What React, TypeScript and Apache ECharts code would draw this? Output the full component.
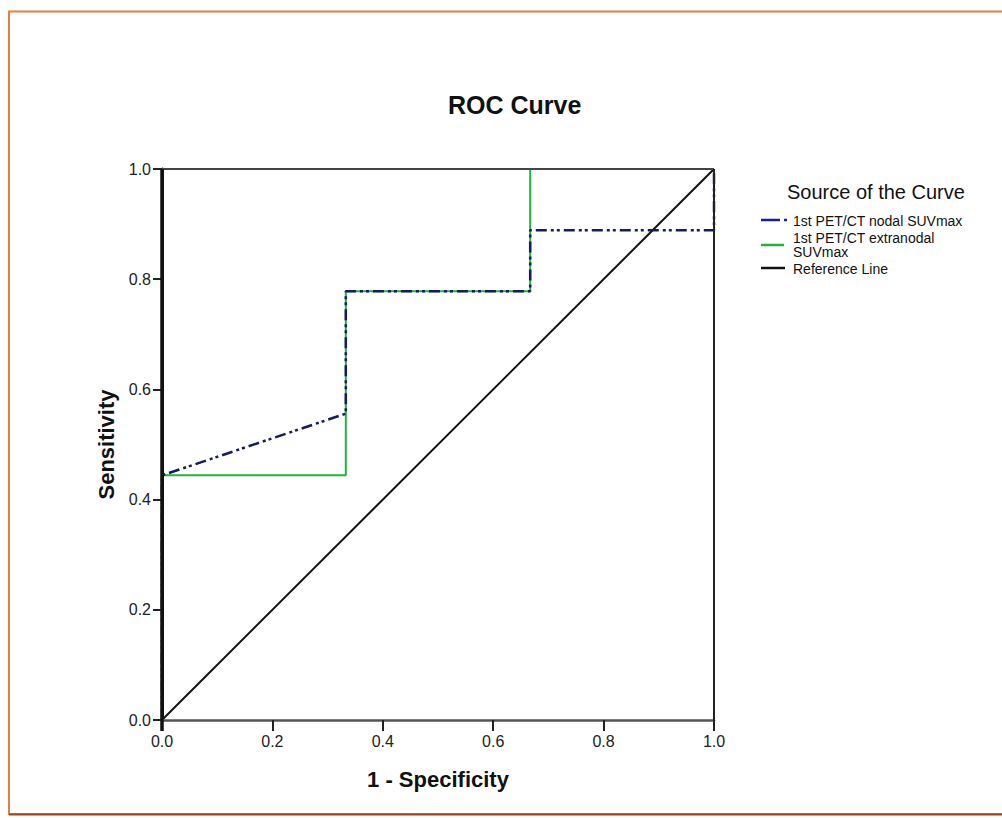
import React, { useEffect, useRef } from "react";
import * as echarts from "echarts";

const xTicks = [0, 0.2, 0.4, 0.6, 0.8, 1.0];
const nodalX = [0, 0, 0.333, 0.333, 0.667, 0.667, 1, 1];
const nodalY = [0, 0.444, 0.556, 0.778, 0.778, 0.889, 0.889, 1];
const extraX = [0, 0, 0.333, 0.333, 0.667, 0.667, 1];
const extraY = [0, 0.444, 0.444, 0.778, 0.778, 1, 1];
const refX = [0, 1];
const refY = [0, 1];
const seriesNames = ["1st PET/CT nodal SUVmax", "1st PET/CT extranodal SUVmax", "Reference Line"];

const zip = (xs: number[], ys: number[]) => xs.map((x, i) => [x, ys[i]]);

export default function App() {
  const ref = useRef<HTMLDivElement>(null);
  useEffect(() => {
    if (!ref.current) return;
    const chart = echarts.init(ref.current, undefined, { renderer: "svg" });
    const font = "'Liberation Sans', Arial, sans-serif";
    const L = 162, T = 169, W = 552, H = 551;
    chart.setOption({
      animation: false,
      backgroundColor: "#ffffff",
      title: {
        text: "ROC Curve",
        left: 443,
        top: 87,
        textStyle: { fontFamily: font, fontSize: 25, fontWeight: "bold", color: "#111" },
      },
      grid: { left: L, top: T, width: W, height: H, show: false },
      xAxis: {
        type: "value",
        min: 0,
        max: 1,
        interval: 0.2,
        z: 10,
        name: "1 - Specificity",
        nameLocation: "middle",
        nameGap: 48,
        nameTextStyle: { fontFamily: font, fontSize: 22, fontWeight: "bold", color: "#111" },
        axisLine: { show: true, onZero: false, lineStyle: { color: "#555", width: 2.5 } },
        axisTick: { show: true, inside: false, length: 11, lineStyle: { color: "#222", width: 2 } },
        axisLabel: {
          fontFamily: font,
          fontSize: 16,
          color: "#222",
          margin: 13,
          formatter: (v: number) => {
            const t = xTicks.find((x) => Math.abs(x - v) < 1e-6);
            return (t ?? v).toFixed(1);
          },
        },
        splitLine: { show: false },
      },
      yAxis: {
        type: "value",
        min: 0,
        max: 1,
        interval: 0.2,
        z: 10,
        name: "Sensitivity",
        nameLocation: "middle",
        nameGap: 40,
        nameTextStyle: { fontFamily: font, fontSize: 22, fontWeight: "bold", color: "#111" },
        axisLine: { show: true, onZero: false, lineStyle: { color: "#111", width: 3 } },
        axisTick: { show: true, inside: false, length: 9, lineStyle: { color: "#222", width: 2 } },
        axisLabel: {
          fontFamily: font,
          fontSize: 16,
          color: "#222",
          margin: 11,
          formatter: (v: number) => v.toFixed(1),
        },
        splitLine: { show: false },
      },
      series: [
        {
          name: seriesNames[2],
          type: "line",
          data: zip(refX, refY),
          symbol: "none",
          lineStyle: { color: "#111", width: 2 },
          z: 2,
        },
        {
          name: seriesNames[1],
          type: "line",
          data: zip(extraX, extraY),
          symbol: "none",
          lineStyle: { color: "#22b33a", width: 2 },
          z: 3,
        },
        {
          name: seriesNames[0],
          type: "line",
          data: zip(nodalX, nodalY),
          symbol: "none",
          lineStyle: { color: "#161a60", width: 2.5, type: [11, 4, 3, 3, 3, 4] },
          z: 4,
        },
      ],
      graphic: [
        {
          type: "line",
          z: 100,
          shape: { x1: L, y1: T, x2: L + W, y2: T },
          style: { stroke: "#444", lineWidth: 2 },
          silent: true,
        },
        {
          type: "line",
          z: 100,
          shape: { x1: L + W, y1: T, x2: L + W, y2: T + H },
          style: { stroke: "#222", lineWidth: 2 },
          silent: true,
        },
        {
          type: "line",
          z: 100,
          shape: { x1: L, y1: T, x2: L, y2: T + H + 11 },
          style: { stroke: "#111", lineWidth: 3.5 },
          silent: true,
        },
        {
          type: "rect",
          shape: { x: 9, y: 11.5, width: 1010, height: 802.5 },
          style: { fill: "none", stroke: "#e3803f", lineWidth: 2 },
          silent: true,
        },
        {
          type: "line",
          shape: { x1: 9, y1: 814.5, x2: 1002, y2: 814.5 },
          style: { stroke: "#9a4a1a", lineWidth: 2 },
          silent: true,
        },
        {
          type: "text",
          x: 787,
          y: 192,
          style: {
            text: "Source of the Curve",
            fontFamily: font,
            fontSize: 20,
            fill: "#111",
            textVerticalAlign: "middle",
          },
        },
        {
          type: "line",
          shape: { x1: 761, y1: 220, x2: 780, y2: 220 },
          style: { stroke: "#1a1f9a", lineWidth: 2.5 },
        },
        {
          type: "line",
          shape: { x1: 784, y1: 220, x2: 787, y2: 220 },
          style: { stroke: "#1a1f9a", lineWidth: 2.5 },
        },
        {
          type: "text",
          x: 793,
          y: 221,
          style: { text: seriesNames[0], fontFamily: font, fontSize: 14, fill: "#111", textVerticalAlign: "middle" },
        },
        {
          type: "line",
          shape: { x1: 761, y1: 245, x2: 784, y2: 245 },
          style: { stroke: "#22b33a", lineWidth: 2.5 },
        },
        {
          type: "text",
          x: 793,
          y: 238,
          style: { text: "1st PET/CT extranodal", fontFamily: font, fontSize: 14, fill: "#111", textVerticalAlign: "middle" },
        },
        {
          type: "text",
          x: 793,
          y: 252,
          style: { text: "SUVmax", fontFamily: font, fontSize: 14, fill: "#111", textVerticalAlign: "middle" },
        },
        {
          type: "line",
          shape: { x1: 761, y1: 268, x2: 785, y2: 268 },
          style: { stroke: "#111", lineWidth: 2.5 },
        },
        {
          type: "text",
          x: 793,
          y: 269,
          style: { text: seriesNames[2], fontFamily: font, fontSize: 14, fill: "#111", textVerticalAlign: "middle" },
        },
      ],
    });
    return () => chart.dispose();
  }, []);
  return (
    <div
      ref={ref}
      style={{ position: "absolute", left: 0, top: 0, width: 1002, height: 818 }}
    />
  );
}
